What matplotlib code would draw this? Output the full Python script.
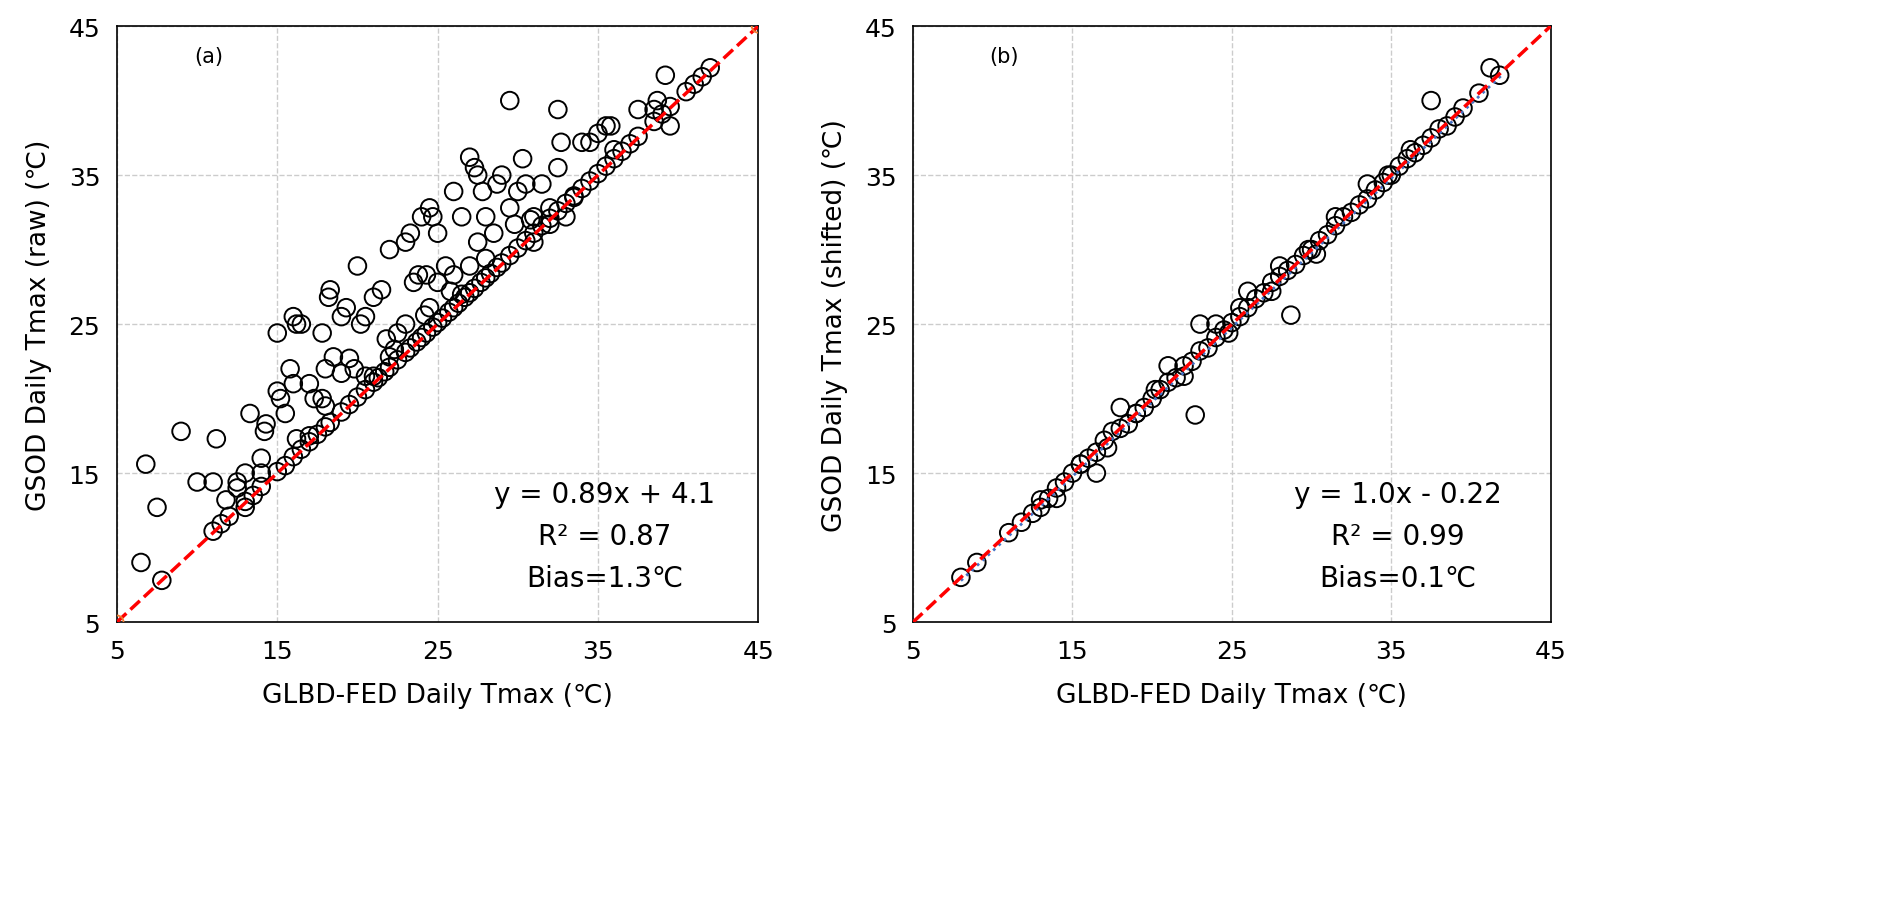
import matplotlib.pyplot as plt
import numpy as np

plt.rcParams['font.family'] = ['DejaVu Sans', 'Noto Sans CJK SC']

# panel (a): raw GSOD vs GLBD-FED
raw_x = [7.8, 11, 11.5, 12, 13, 13.5, 14, 15, 15.5, 16, 16.5, 17, 17.5, 18, 18.3, 19, 19.5, 20, 20.5, 21,
         21.3, 21.7, 22, 22.5, 23, 23.3, 23.7, 24, 24.3, 24.7, 25, 25.3, 25.7, 26, 26.3, 26.7, 27, 27.3, 27.7,
         28, 28.3, 28.7, 29, 29.5, 30, 30.5, 31, 31.5, 32, 32.5, 33, 33.5, 34, 34.5, 35, 35.5, 36, 36.5, 37,
         37.5, 38.5, 39, 39.5, 40.5, 41, 41.5, 42,
         6.5, 6.8, 7.5, 9, 10, 11, 11.2, 11.8, 12.5, 13, 13.3, 13, 14, 14.2, 14.3, 15, 15, 15.2, 15.5, 15.8,
         16, 16.2, 16.5, 16, 16.2, 17, 17.3, 17.8, 18.2, 18.3, 18, 18.5, 19, 19, 19.3, 19.5, 20, 20.2, 20.5,
         21, 21.5, 21, 22, 22.5, 22.3, 23, 23.3, 23, 23.5, 24, 24.3, 24.5, 24.7, 25, 25, 24.5, 24.2, 25.5,
         26, 26.5, 27, 27.3, 27.5, 27.5, 27.8, 28, 28.5, 28.7, 29, 29.5, 29.5, 30, 30.3, 30.5, 31, 31.5, 32,
         32.5, 32.5, 32.7, 33, 34, 34.5, 35, 35.5, 35.8, 36, 37.5, 38.5, 38.7, 39.2, 39.5, 26.5, 26, 27, 28,
         20.5, 21.8, 18, 17, 22, 31, 32, 33.5, 14, 12.5, 17.8, 19.8, 23.8, 25.8, 29.8, 30.8]
raw_y = [7.8, 11.1, 11.6, 12.1, 13.1, 13.5, 14.1, 15.1, 15.5, 16.1, 16.6, 17.1, 17.6, 18.1, 18.4, 19.1, 19.6,
         20.1, 20.6, 21.1, 21.4, 21.8, 22.1, 22.6, 23.1, 23.4, 23.8, 24.1, 24.4, 24.8, 25.1, 25.4, 25.8, 26.1,
         26.4, 26.8, 27.1, 27.4, 27.8, 28.1, 28.4, 28.8, 29.1, 29.6, 30.1, 30.6, 31.1, 31.6, 32.1, 32.6, 33.1,
         33.6, 34.1, 34.6, 35.1, 35.6, 36.1, 36.6, 37.1, 37.6, 38.6, 39.1, 39.6, 40.6, 41.1, 41.6, 42.2,
         9, 15.6, 12.7, 17.8, 14.4, 14.4, 17.3, 13.2, 14.4, 15, 19, 12.7, 16, 17.8, 18.3, 20.5, 24.4, 20, 19,
         22, 25.5, 25, 25, 21, 17.3, 21, 20, 24.4, 26.8, 27.3, 22, 22.8, 25.5, 21.7, 26.1, 22.7, 28.9, 25,
         25.5, 26.8, 27.3, 21.5, 30, 24.4, 23.3, 30.5, 31.1, 25, 27.8, 32.2, 28.3, 32.8, 32.2, 31.1, 27.8,
         26.1, 25.6, 28.9, 33.9, 32.2, 36.2, 35.5, 35, 30.5, 33.9, 32.2, 31.1, 34.4, 35, 40, 32.8, 33.9, 36.1,
         34.4, 32.2, 34.4, 31.7, 39.4, 35.5, 37.2, 32.2, 37.2, 37.2, 37.8, 38.3, 38.3, 36.7, 39.4, 39.4, 40,
         41.7, 38.3, 27, 28.3, 28.9, 29.4, 21.5, 24, 19.5, 17.5, 22.8, 30.5, 32.8, 33.5, 15, 14, 20, 22,
         28.3, 27.2, 31.7, 32]

# panel (b): shifted GSOD vs GLBD-FED
sh_x = [8, 9, 11, 11.8, 12.5, 13, 13.5, 14, 14.5, 15, 15.5, 16, 16.5, 17, 17.5, 18, 18.5, 19, 19.5, 20,
        20.5, 21, 21.5, 22, 22.5, 23, 23.5, 24, 24.5, 25, 25.5, 26, 26.5, 27, 27.5, 28, 28.5, 29, 29.5,
        30, 30.5, 31, 31.5, 32, 32.5, 33, 33.5, 34, 34.5, 35, 35.5, 36, 36.5, 37, 37.5, 38, 38.5, 39,
        39.5, 40.5, 41.2, 41.8, 14, 15.5, 21, 22, 24, 25.5, 26, 27.5, 28, 31.5, 33.5,
        23, 22.7, 28.7, 37.5, 18, 19, 16.5, 13, 17.2, 20.2, 24.8, 29.8, 30.3, 34.8, 36.2]
sh_y = [8, 9, 11, 11.7, 12.3, 13.2, 13.3, 14, 14.4, 15, 15.6, 16, 16.4, 17.2, 17.8, 18, 18.3, 19, 19.4,
        20, 20.6, 21.1, 21.4, 22.2, 22.5, 23.2, 23.4, 24.1, 24.6, 25.1, 25.5, 26.1, 26.7, 27.1, 27.8, 28.2,
        28.6, 29, 29.6, 30, 30.6, 31, 31.6, 32.2, 32.5, 33, 33.4, 34, 34.5, 35, 35.6, 36.1, 36.5, 37,
        37.5, 38.1, 38.3, 38.9, 39.5, 40.5, 42.2, 41.7, 13.3, 15.6, 22.2, 21.5, 25, 26.1, 27.2, 27.2,
        28.9, 32.2, 34.4, 25, 18.9, 25.6, 40, 19.4, 19, 15, 12.7, 16.7, 20.6, 24.4, 30, 29.7, 35, 36.7]

fig = plt.figure(figsize=(18.92, 9.03), dpi=100)
ax1 = fig.add_axes([0.0618, 0.310, 0.339, 0.660])
ax2 = fig.add_axes([0.4826, 0.310, 0.337, 0.660])

panels = [
    (ax1, raw_x, raw_y, '(a)', 'GSOD Daily Tmax (raw) (℃)', ['y = 0.89x + 4.1', 'R² = 0.87', 'Bias=1.3℃']),
    (ax2, sh_x, sh_y, '(b)', 'GSOD Daily Tmax (shifted) (℃)', ['y = 1.0x - 0.22', 'R² = 0.99', 'Bias=0.1℃']),
]
for ax, x, y, tag, ylab, eq in panels:
    ax.set_xlim(5, 45)
    ax.set_ylim(5, 45)
    ax.set_xticks([5, 15, 25, 35, 45])
    ax.set_yticks([5, 15, 25, 35, 45])
    ax.grid(True, ls='--', color='#cccccc', lw=1)
    ax.set_axisbelow(True)
    ax.scatter(x, y, s=160, facecolors='none', edgecolors='black', linewidths=1.4, zorder=2)
    ax.plot([5, 45], [5, 45], ls='--', color='red', lw=2.5, zorder=3)
    ax.tick_params(labelsize=18, length=0, pad=12)
    ax.set_xlabel('GLBD-FED Daily Tmax (℃)', fontsize=19, labelpad=14)
    ax.set_ylabel(ylab, fontsize=19, labelpad=12)
    ax.text(0.12, 0.95, tag, transform=ax.transAxes, fontsize=15, va='center')
    for i, line in enumerate(eq):
        ax.text(0.76, 0.215 - i * 0.07, line, transform=ax.transAxes, fontsize=20, ha='center', va='center')
    for s in ax.spines.values():
        s.set_linewidth(1.2)

ax1.scatter([5, 45], [5, 45], s=90, facecolors='none', edgecolors='#ed7d31', linewidths=1.3, zorder=4)
fx = np.array([8, 42])
ax2.plot(fx, 1.0 * fx - 0.22, ls=':', color='#4472c4', lw=2, zorder=2)

fig.savefig('out.png', dpi=100)
